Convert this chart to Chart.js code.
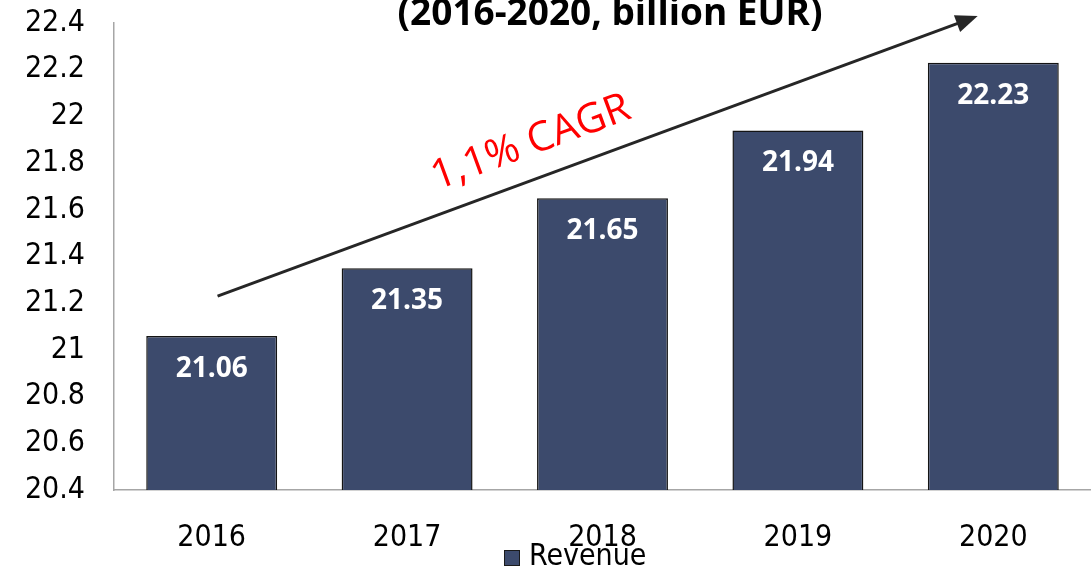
<!DOCTYPE html>
<html>
<head>
<meta charset="UTF-8">
<title>Revenue 2016-2020</title>
<script src="https://cdn.jsdelivr.net/npm/chart.js"></script>
<style>
  html, body { margin: 0; padding: 0; background: #fff; }
  .chart-container { width: 1091px; height: 571px; }
</style>
</head>
<body>
<div class="chart-container">
  <canvas id="revenueChart"></canvas>
</div>
<script>
// data
const years = ['2016', '2017', '2018', '2019', '2020'];
const revenue = [21.06, 21.35, 21.65, 21.94, 22.23];
const seriesName = 'Revenue';
const titleText = '(2016-2020, billion EUR)';
const cagrText = '1,1% CAGR';
// arrow ends in scale units (category index, value)
const arrowFrom = [0.03, 21.23];
const arrowTo = [3.92, 22.43];

const FONT = "'Open Sans', sans-serif";
const AXIS_FONT = "'DejaVu Sans Condensed', 'DejaVu Sans', sans-serif";
const BAR = '#3c4a6c';

// white value labels inside the bars, the title, the CAGR arrow and the legend
const overlay = {
    id: 'overlay',
    afterDatasetsDraw(chart) {
        const ctx = chart.ctx;
        const meta = chart.getDatasetMeta(0);
        const x = chart.scales.x, y = chart.scales.y;

        ctx.save();
        ctx.fillStyle = '#ffffff';
        ctx.font = 'bold 28px ' + FONT;
        ctx.textAlign = 'center';
        ctx.textBaseline = 'middle';
        meta.data.forEach((bar, i) => {
            ctx.fillText(revenue[i].toFixed(2), bar.x, bar.y + 33);
        });

        // title, clipped at the top like the source
        ctx.fillStyle = '#000000';
        ctx.font = 'bold 37px ' + FONT;
        ctx.textBaseline = 'alphabetic';
        ctx.fillText(titleText, 610, 25);

        // arrow
        const x1 = x.getPixelForValue(arrowFrom[0]), y1 = y.getPixelForValue(arrowFrom[1]);
        const x2 = x.getPixelForValue(arrowTo[0]), y2 = y.getPixelForValue(arrowTo[1]);
        const ang = Math.atan2(y2 - y1, x2 - x1);
        ctx.strokeStyle = '#262626';
        ctx.fillStyle = '#262626';
        ctx.lineWidth = 3;
        ctx.beginPath();
        ctx.moveTo(x1, y1);
        ctx.lineTo(x2 - 14 * Math.cos(ang), y2 - 14 * Math.sin(ang));
        ctx.stroke();
        ctx.beginPath();
        ctx.moveTo(x2, y2);
        ctx.lineTo(x2 - 22 * Math.cos(ang) + 9 * Math.sin(ang), y2 - 22 * Math.sin(ang) - 9 * Math.cos(ang));
        ctx.lineTo(x2 - 22 * Math.cos(ang) - 9 * Math.sin(ang), y2 - 22 * Math.sin(ang) + 9 * Math.cos(ang));
        ctx.closePath();
        ctx.fill();

        // CAGR label along the arrow
        ctx.translate(531, 143);
        ctx.rotate(ang);
        ctx.fillStyle = '#ff0000';
        ctx.font = '41px ' + FONT;
        ctx.textBaseline = 'middle';
        ctx.fillText(cagrText, 0, 0);
        ctx.restore();

        // legend
        ctx.save();
        ctx.fillStyle = BAR;
        ctx.strokeStyle = '#1a1a1a';
        ctx.lineWidth = 1;
        ctx.fillRect(504, 550, 16, 16);
        ctx.strokeRect(504.5, 550.5, 15, 15);
        ctx.fillStyle = '#000000';
        ctx.font = '30px ' + AXIS_FONT;
        ctx.textAlign = 'left';
        ctx.textBaseline = 'middle';
        ctx.fillText(seriesName, 529, 557);
        ctx.restore();
    }
};

new Chart(document.getElementById('revenueChart').getContext('2d'), {
    type: 'bar',
    data: {
        labels: years,
        datasets: [{
            label: seriesName,
            data: revenue,
            backgroundColor: BAR,
            borderColor: '#141414',
            borderWidth: 1.5,
            barPercentage: 0.67,
            categoryPercentage: 1.0
        }]
    },
    options: {
        responsive: true,
        maintainAspectRatio: false,
        animation: false,
        layout: { padding: { top: 23, right: 0, bottom: 0, left: 0 } },
        plugins: {
            legend: { display: false },
            tooltip: { enabled: false }
        },
        scales: {
            x: {
                grid: { display: false, drawTicks: false },
                border: { display: true, color: '#a6a6a6', width: 1.5 },
                ticks: { color: '#000', font: { family: AXIS_FONT, size: 30 }, padding: 30 },
                afterFit(scale) { scale.height = 81; }
            },
            y: {
                min: 20.4,
                max: 22.4,
                grid: { display: false, drawTicks: false },
                border: { display: true, color: '#a6a6a6', width: 1.5 },
                ticks: {
                    stepSize: 0.2,
                    color: '#000',
                    font: { family: AXIS_FONT, size: 30 },
                    padding: 29,
                    callback: v => String(Math.round(v * 10) / 10)
                },
                afterFit(scale) {
                    scale.width = 114;
                    scale.paddingTop = 0;
                    scale.paddingBottom = 0;
                }
            }
        }
    },
    plugins: [overlay]
});
</script>
</body>
</html>
